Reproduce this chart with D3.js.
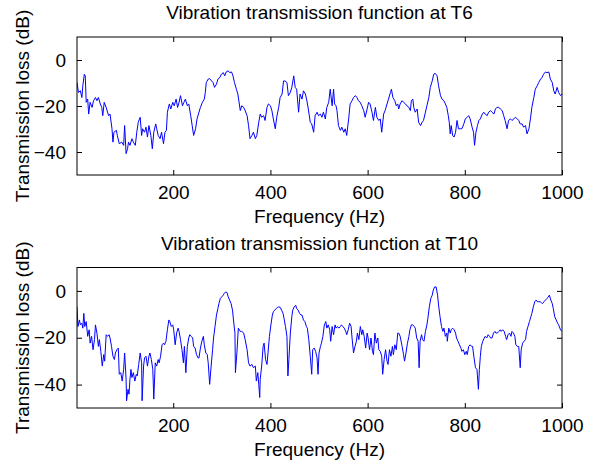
<!DOCTYPE html>
<html><head><meta charset="utf-8">
<script src="https://cdn.jsdelivr.net/npm/d3@7"></script>
<style>
html,body{margin:0;padding:0;background:#fff;}
svg{display:block;font-family:"Liberation Sans",Arial,sans-serif;}
</style></head>
<body><svg id="c" width="600" height="464"></svg>
<script>
// ---- data ----
const titles = ["Vibration transmission function at T6", "Vibration transmission function at T10"];
const xLabel = "Frequency (Hz)";
const yLabel = "Transmission loss (dB)";
const xTicks = [200, 400, 600, 800, 1000];
const yTicks = [0, -20, -40];
const xDomain = [2, 1000];
const yDomain = [-50, 10];

const freqT6 = [2,5,9,12,14,17,19,21,24,26,29,33,36,40,43,46,50,53,55,58,62,67,70,74,76,78,83,85,89,94,98,100,103,106,108,111,115,118,122,125,128,132,135,137,141,144,147,150,154,157,160,164,166,169,173,176,180,183,186,188,192,195,199,202,206,209,212,215,219,222,225,229,232,236,239,242,246,249,253,256,260,264,266,268,272,275,279,282,285,289,292,296,299,303,306,309,313,316,320,323,326,330,333,
338,341,345,348,352,355,358,362,365,369,372,376,379,382,386,389,393,396,400,403,406,410,413,417,420,424,427,430,434,437,441,444,448,451,454,458,461,465,468,472,475,478,482,485,489,492,496,499,503,506,509,513,516,520,523,527,530,532,535,537,540,544,547,551,554,557,561,564,568,571,575,578,581,585,588,592,595,599,602,605,609,612,616,619,623,626,629,633,636,640,643,647,649,652,656,659,662,
664,667,671,674,678,681,685,688,690,693,695,698,702,705,709,712,715,719,722,726,729,733,736,739,743,746,750,753,757,760,763,766,768,770,772,775,778,781,784,787,791,794,798,801,805,808,811,815,818,820,823,826,829,832,836,839,842,846,849,853,856,860,863,866,870,873,877,880,883,887,890,894,897,901,904,908,911,914,918,921,925,928,932,935,938,942,945,949,952,956,959,962,966,969,973,976,980,983,986,990,993,997,1000];
const lossT6 = [-9.8,-14.1,-13.4,-16.3,-11.2,-6.2,-6.9,-18.4,-17,-23.5,-18.4,-20.6,-17.7,-16.3,-17.7,-16.3,-19.1,-20.6,-24.2,-18.4,-20.6,-24.2,-23.5,-29.9,-35.7,-31.4,-30.6,-32.8,-36.4,-35.7,-37.1,-28.5,-40.7,-38.6,-35.7,-37.1,-34.2,-35.7,-37.1,-31.4,-27.1,-24.9,-32.8,-29.9,-31.4,-29.2,-33.5,-28.5,-32.8,-38.6,-31.4,-27.8,-29.9,-32.8,-34.2,-31.4,-36.4,-31.4,-30.6,-22.7,-19.1,-21.3,-18.4,-19.9,-17,-20.6,-18.4,-15.5,-19.9,-18.4,-17,-19.9,-19.1,-24.2,-28.5,-32.8,-29.9,-25.6,-22.7,-20.6,-18.4,-17,-14.1,-9.8,-8.3,-8.1,-9.1,-9.8,-11.9,-10.5,-8.3,-7.6,-6.2,-5.5,-6.9,-5.2,-4.7,-5.5,-5.2,-6.9,-9.8,-12.7,-14.8,
-22.0,-19.9,-20.6,-22.0,-24.2,-28.5,-34.2,-32.8,-31.4,-34.2,-32.8,-27.1,-23.5,-24.9,-24.2,-26.3,-20.6,-19.1,-19.9,-22.0,-25.6,-29.9,-24.9,-20.6,-16.3,-14.8,-9.1,-9.1,-9.8,-15.5,-14.1,-11.9,-6.9,-11.9,-12.7,-22.7,-14.8,-17.0,-13.4,-14.8,-17.7,-21.3,-27.1,-27.8,-31.4,-24.2,-22.7,-24.2,-23.5,-24.9,-22.7,-25.6,-20.6,-18.4,-12.7,-19.9,-12.7,-19.1,-19.9,-22.0,-28.5,-30.6,-29.2,-31.4,-29.9,-32.8,-25.6,-19.1,-17.7,-16.3,-15.5,-16.3,-17.7,-18.4,-19.9,-22.0,-24.9,-21.3,-18.4,-19.1,-22.7,-26.3,-20.6,-24.9,-26.3,-25.6,-31.4,-23.5,-22.0,-19.1,-17.0,-14.1,-12.7,-16.3,-17.7,-19.9,-19.1,
-21.3,-19.1,-17.7,-18.4,-19.1,-19.9,-20.6,-22.0,-17.7,-17.0,-20.6,-22.7,-21.3,-27.1,-28.5,-27.1,-26.3,-22.7,-19.9,-16.3,-11.9,-9.1,-6.2,-5.8,-6.9,-11.2,-15.5,-17.0,-17.7,-19.1,-20.6,-24.2,-27.1,-32.1,-28.5,-32.8,-33.5,-31.4,-26.3,-29.9,-29.9,-29.9,-27.8,-25.6,-24.9,-24.2,-25.6,-29.2,-31.4,-37.1,-31.4,-28.5,-26.3,-25.6,-23.5,-22.7,-23.5,-24.2,-22.7,-22.0,-22.7,-23.5,-21.3,-20.6,-20.6,-21.3,-22.0,-24.2,-26.3,-29.9,-26.3,-25.6,-26.3,-25.6,-24.9,-25.6,-26.3,-27.8,-27.8,-29.2,-28.5,-32.1,-29.9,-25.6,-20.6,-16.3,-12.7,-11.2,-9.8,-8.3,-7.6,-6.2,-5.2,-5.5,-5.2,-8.3,-9.8,-13.4,-14.8,-11.9,-14.1,-15.5,-14.8];

const freqT10 = [2,4,7,9,12,14,16,18,21,24,27,29,32,35,38,40,43,46,48,51,54,57,59,62,65,68,70,73,76,79,81,84,87,89,92,95,98,100,103,104,107,109,111,113,115,118,121,124,126,129,132,135,136,139,141,144,147,150,152,155,158,160,163,166,169,171,174,177,180,182,185,188,191,193,196,199,201,204,207,210,212,215,218,221,223,226,229,232,234,237,240,242,245,248,251,253,256,259,262,264,267,270,272,275,278,281,283,286,289,292,294,297,300,303,305,308,311,313,316,319,322,324,327,328,331,334,
338,341,345,348,352,355,358,362,365,369,371,374,376,378,379,382,385,387,390,393,395,398,401,404,406,409,412,415,417,420,423,426,428,431,434,436,438,441,444,446,449,452,454,457,460,463,465,468,471,474,476,479,482,485,487,490,493,496,498,500,503,505,508,511,514,516,519,522,524,527,530,533,535,538,541,544,546,549,552,555,557,560,563,566,568,571,574,577,579,582,585,588,590,593,596,599,601,604,607,610,612,615,618,621,623,626,629,631,634,637,640,642,645,648,651,653,656,659,662,
664,667,671,674,676,679,682,685,687,690,693,696,698,701,704,706,708,711,713,716,719,722,724,727,730,733,735,738,741,744,746,749,752,755,757,760,763,764,767,770,772,775,778,781,783,786,789,792,794,797,800,803,805,808,811,814,816,819,822,825,826,828,830,832,834,837,840,842,845,848,851,853,856,859,862,864,867,870,873,875,878,881,884,886,889,892,895,897,900,903,905,908,911,914,916,919,922,925,927,930,933,936,938,941,944,947,949,952,955,958,960,963,966,969,971,974,977,980,982,985,988,991,993,997,1000];
const lossT10 = [-6.8,-15.2,-12.4,-14.5,-13.8,-15.9,-9.6,-15.2,-13.1,-19.4,-16.6,-22.3,-19.4,-25.1,-20.8,-14.5,-18.0,-23.7,-20.8,-25.8,-32.1,-27.2,-30.0,-18.7,-19.4,-18.7,-20.1,-23.7,-27.9,-29.3,-26.5,-25.1,-24.4,-35.6,-34.9,-38.5,-33.5,-26.5,-37.7,-46.9,-42.0,-44.1,-37.7,-33.5,-37.0,-34.9,-38.5,-35.6,-36.3,-31.4,-26.5,-30.7,-46.9,-32.1,-28.6,-27.9,-32.1,-27.9,-26.5,-29.3,-33.5,-46.2,-30.7,-32.1,-29.3,-30.7,-27.9,-23.0,-22.3,-23.0,-21.5,-16.6,-12.4,-13.1,-15.2,-14.5,-16.6,-23.0,-18.0,-15.9,-17.3,-20.8,-25.1,-30.7,-23.7,-34.9,-23.7,-20.1,-18.7,-19.4,-20.1,-23.7,-24.4,-27.2,-28.6,-28.6,-24.4,-21.5,-19.4,-23.0,-26.5,-27.2,-30.7,-39.9,-32.1,-25.1,-20.1,-15.2,-10.3,-7.5,-5.4,-3.2,-2.5,-1.8,-1.1,-0.4,-0.8,-2.5,-3.9,-5.4,-8.2,-12.4,-18.0,-34.9,-26.5,-15.9,
-17.3,-17.3,-18.0,-20.8,-25.1,-30.7,-32.1,-31.4,-32.8,-32.1,-38.5,-34.9,-39.9,-45.5,-37.7,-32.1,-23.7,-22.3,-29.3,-31.4,-26.5,-19.4,-14.5,-10.3,-8.9,-8.2,-7.5,-7.0,-6.8,-7.0,-8.2,-9.6,-11.7,-15.2,-19.4,-36.3,-29.3,-18.0,-11.0,-8.2,-6.8,-6.1,-7.5,-8.2,-9.6,-10.3,-10.3,-12.4,-13.1,-15.2,-15.9,-20.8,-27.9,-35.6,-25.1,-24.4,-25.8,-28.6,-35.6,-26.5,-23.7,-22.3,-19.4,-14.5,-13.1,-15.9,-14.5,-16.6,-21.5,-15.2,-18.7,-14.5,-15.9,-15.2,-15.9,-15.2,-14.5,-15.2,-15.9,-17.3,-18.7,-16.6,-13.8,-15.2,-20.1,-26.5,-23.7,-21.5,-18.0,-20.8,-15.2,-18.7,-16.6,-19.4,-24.4,-18.0,-20.1,-25.1,-20.1,-25.8,-27.2,-18.0,-22.3,-20.1,-25.1,-25.8,-27.9,-35.6,-29.3,-25.1,-30.0,-31.4,-25.1,-27.9,-23.7,-27.2,-23.0,-25.1,-18.0,
-18.0,-19.4,-23.7,-27.2,-30.0,-26.5,-22.3,-19.4,-16.6,-14.5,-14.5,-15.2,-15.9,-20.1,-21.5,-32.8,-21.5,-18.7,-20.8,-21.5,-17.3,-14.5,-11.7,-6.8,-3.2,-1.8,0.3,1.7,1.7,-1.8,-6.1,-11.0,-15.2,-17.3,-15.9,-19.4,-18.0,-21.5,-15.9,-18.0,-16.6,-15.9,-16.6,-18.0,-20.1,-21.5,-23.0,-24.4,-25.8,-25.1,-27.2,-25.8,-27.2,-23.7,-23.0,-23.7,-23.7,-28.6,-32.8,-33.5,-36.3,-42.0,-33.5,-27.9,-23.7,-21.5,-20.1,-19.4,-20.1,-18.7,-19.4,-20.1,-20.1,-18.0,-17.3,-18.0,-18.0,-17.3,-16.6,-17.3,-16.6,-17.3,-19.4,-20.8,-18.7,-18.0,-19.4,-17.3,-18.0,-19.4,-23.0,-23.7,-23.7,-32.8,-25.1,-22.3,-21.5,-20.8,-17.3,-15.2,-13.1,-11.0,-9.6,-6.8,-4.6,-3.9,-4.6,-4.6,-4.6,-5.1,-5.4,-4.6,-3.9,-3.2,-2.8,-1.8,-3.9,-5.4,-7.5,-11.0,-12.4,-13.8,-14.5,-16.6,-17.3];

// ---- drawing ----
const svg = d3.select("#c");
const FS = 19;
const panels = [
  {top: 37, bottom: 175, freq: freqT6, loss: lossT6, title: titles[0]},
  {top: 267.5, bottom: 408, freq: freqT10, loss: lossT10, title: titles[1]}
];
const left = 77, right = 562;

panels.forEach((p, i) => {
  const x = d3.scaleLinear().domain(xDomain).range([left, right]);
  const y = d3.scaleLinear().domain(yDomain).range([p.bottom, p.top]);
  const g = svg.append("g");
  const cid = "clip" + i;
  g.append("clipPath").attr("id", cid).append("rect")
    .attr("x", left).attr("y", p.top).attr("width", right - left).attr("height", p.bottom - p.top);

  const pts = p.freq.map((f, k) => [f, p.loss[k]]);
  g.append("path").datum(pts)
    .attr("clip-path", `url(#${cid})`)
    .attr("fill", "none").attr("stroke", "#0000ff").attr("stroke-width", 1)
    .attr("stroke-linejoin", "round")
    .attr("d", d3.line().x(d => x(d[0])).y(d => y(d[1])));

  const styleAxis = (sel, labels) => {
    sel.select(".domain").remove();
    sel.selectAll(".tick line").attr("stroke", "#000").attr("stroke-width", 1);
    sel.selectAll(".tick text").attr("fill", "#000").style("font-size", FS + "px")
       .style("font-family", '"Liberation Sans", Arial, sans-serif');
    if (!labels) sel.selectAll(".tick text").remove();
  };

  g.append("g").attr("transform", `translate(0,${p.bottom})`)
    .call(d3.axisBottom(x).tickValues(xTicks).tickFormat(d3.format("d")).tickSizeInner(-5).tickSizeOuter(0).tickPadding(11))
    .call(s => styleAxis(s, true));
  g.append("g").attr("transform", `translate(0,${p.top})`)
    .call(d3.axisTop(x).tickValues(xTicks).tickSizeInner(-5).tickSizeOuter(0))
    .call(s => styleAxis(s, false));
  g.append("g").attr("transform", `translate(${left},0)`)
    .call(d3.axisLeft(y).tickValues(yTicks).tickFormat(d3.format("d")).tickSizeInner(-5).tickSizeOuter(0).tickPadding(11))
    .call(s => styleAxis(s, true));
  g.append("g").attr("transform", `translate(${right},0)`)
    .call(d3.axisRight(y).tickValues(yTicks).tickSizeInner(-5).tickSizeOuter(0))
    .call(s => styleAxis(s, false));

  g.append("rect").attr("x", left).attr("y", p.top)
    .attr("width", right - left).attr("height", p.bottom - p.top)
    .attr("fill", "none").attr("stroke", "#000").attr("stroke-width", 1);

  const cx = (left + right) / 2;
  g.append("text").attr("x", cx).attr("y", p.top - 18).attr("text-anchor", "middle")
    .style("font-size", FS + "px").text(p.title);
  g.append("text").attr("x", cx).attr("y", p.bottom + 48).attr("text-anchor", "middle")
    .style("font-size", FS + "px").text(xLabel);
  const cy = (p.top + p.bottom) / 2;
  g.append("text").attr("transform", `translate(29,${cy}) rotate(-90)`)
    .attr("text-anchor", "middle").style("font-size", FS + "px").text(yLabel);
});
</script></body></html>
